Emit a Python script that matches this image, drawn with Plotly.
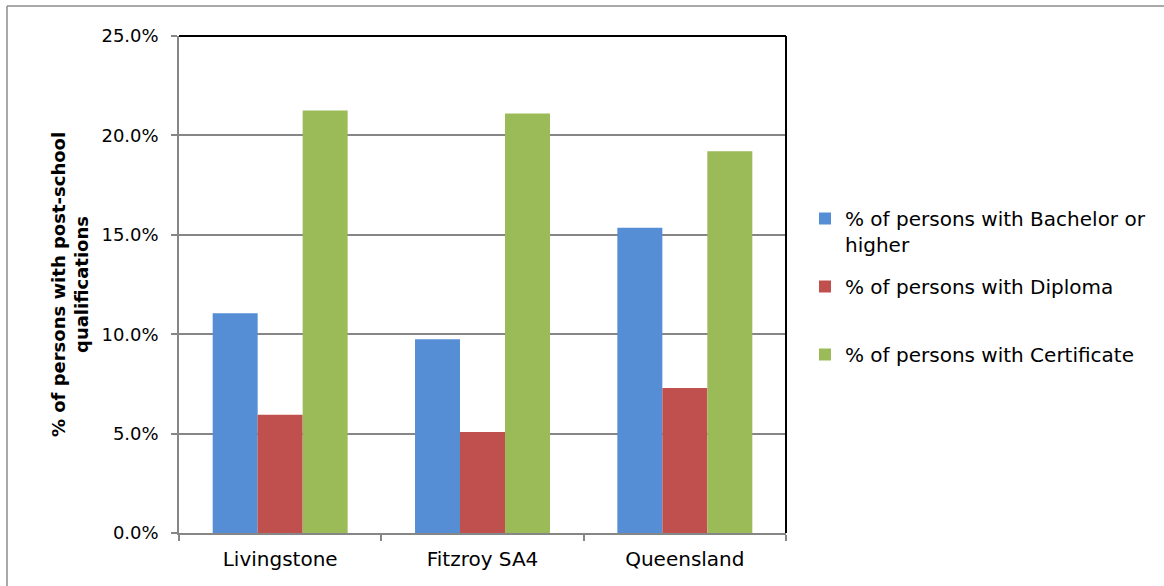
import plotly.graph_objects as go

# Data
regions = ["Livingstone", "Fitzroy SA4", "Queensland"]
series_names = [
    "% of persons with Bachelor or<br>higher",
    "% of persons with Diploma",
    "% of persons with Certificate",
]
bachelor = [11.05, 9.75, 15.35]
diploma = [5.95, 5.08, 7.30]
certificate = [21.25, 21.10, 19.20]
y_ticks = [0, 5, 10, 15, 20, 25]

colors = ["#558ED5", "#C0504D", "#9BBB59"]
FONT = "DejaVu Sans"
GRID = "#868686"

W, H = 1164, 586
L, R, T, B = 179, 378, 36, 53
pw, ph = W - L - R, H - T - B


def px_x(x):
    return (x - L) / pw


def px_y(y):
    return (H - B - y) / ph


fig = go.Figure()
legends = ["legend", "legend2", "legend3"]
for name, vals, col, lg in zip(series_names, [bachelor, diploma, certificate], colors, legends):
    fig.add_trace(go.Bar(
        x=regions, y=vals, name=name, legend=lg,
        marker=dict(color=col, line=dict(width=0)),
    ))

legend_common = dict(
    xanchor="left", yanchor="top", x=px_x(805),
    font=dict(family=FONT, size=20, color="#000"),
    bgcolor="rgba(0,0,0,0)", valign="top", itemclick=False,
)
fig.update_layout(
    legend=dict(y=px_y(199), **legend_common),
    legend2=dict(y=px_y(267), **legend_common),
    legend3=dict(y=px_y(335), **legend_common),
)

fig.update_layout(
    width=W, height=H,
    margin=dict(l=L, r=R, t=T, b=B, pad=0),
    paper_bgcolor="white", plot_bgcolor="white",
    barmode="group", bargap=0.333, bargroupgap=0,
    font=dict(family=FONT, color="#000"),
    showlegend=True,
)

fig.update_xaxes(
    type="category", showline=True, linecolor=GRID, linewidth=1.5,
    ticks="outside", tickson="boundaries", ticklen=6, tickcolor=GRID, tickwidth=1.5,
    tickfont=dict(family=FONT, size=20, color="#000"), ticklabelstandoff=7,
    showgrid=False, zeroline=False,
)
fig.update_yaxes(
    range=[0, 25], tickvals=y_ticks, ticktext=[f"{v:.1f}%" for v in y_ticks],
    showline=True, linecolor=GRID, linewidth=1.5,
    ticks="outside", ticklen=6, tickcolor=GRID, tickwidth=1.5,
    tickfont=dict(family=FONT, size=18, color="#000"), ticklabelstandoff=9,
    showgrid=True, gridcolor=GRID, gridwidth=1.5, zeroline=False,
    title=dict(
        text="<b>% of persons with post-school<br>qualifications</b>",
        font=dict(family=FONT, size=18, color="#000"), standoff=8,
    ),
)

# Plot-area frame: dark top and right edges
fig.add_shape(type="line", xref="paper", yref="paper", x0=0, x1=1, y0=1, y1=1,
              line=dict(color="#000", width=2))
fig.add_shape(type="line", xref="paper", yref="paper", x0=1, x1=1, y0=0, y1=1,
              line=dict(color="#000", width=2))

# Chart-area border
fig.add_shape(type="line", xref="paper", yref="paper",
              x0=px_x(7), x1=px_x(W + 5), y0=px_y(6), y1=px_y(6),
              line=dict(color="#8C8C8C", width=1.5))
fig.add_shape(type="line", xref="paper", yref="paper",
              x0=px_x(7), x1=px_x(7), y0=px_y(6), y1=px_y(H + 5),
              line=dict(color="#8C8C8C", width=1.5))

fig.write_html("out.html")
